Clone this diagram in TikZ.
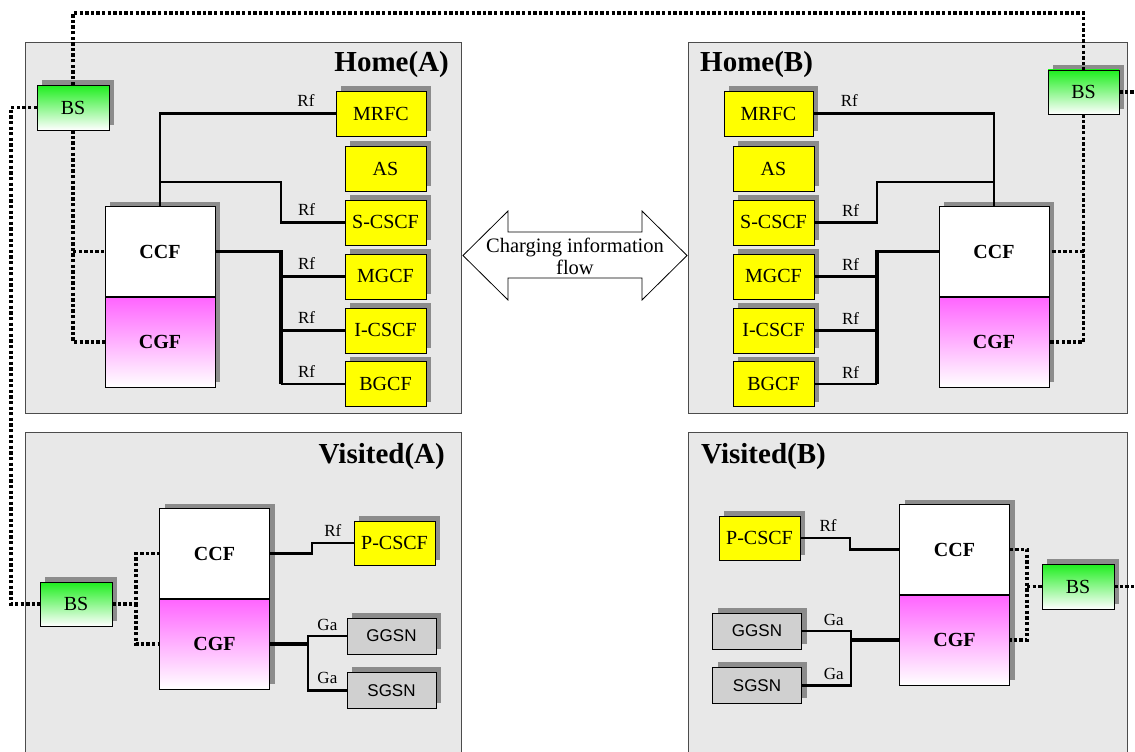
\documentclass[tikz,border=0pt]{standalone}
\usepackage{fontspec}
\setmainfont{Liberation Serif}
\setsansfont{Liberation Sans}
\usetikzlibrary{positioning,shadows}
\definecolor{panelgray}{RGB}{232,232,232}
\definecolor{boxyellow}{RGB}{255,255,0}
\definecolor{boxgray}{RGB}{208,208,208}
\definecolor{shadowgray}{RGB}{140,140,140}
\definecolor{bsgreen}{RGB}{30,238,30}
\definecolor{cgfpink}{RGB}{255,100,255}

\begin{document}
\begin{tikzpicture}[x=1pt,y=-1pt,
  panel/.style={draw=black!70,fill=panelgray,line width=0.8pt,inner sep=0pt},
  title/.style={font=\fontsize{29}{31}\selectfont\bfseries,inner sep=0pt},
  shadowed/.style={drop shadow={shadow xshift=5pt,shadow yshift=5pt,opacity=1,fill=shadowgray,draw=none}},
  fbox/.style={shadowed,draw,fill=boxyellow,minimum width=81pt,minimum height=45pt,inner sep=0pt,font=\fontsize{20}{22}\selectfont},
  gbox/.style={shadowed,draw,fill=boxgray,minimum width=89pt,minimum height=36pt,inner sep=0pt,font=\sffamily\fontsize{17}{19}\selectfont},
  bs/.style={shadowed,draw,top color=bsgreen,bottom color=white,minimum width=72pt,minimum height=45pt,inner sep=0pt,font=\fontsize{20}{22}\selectfont},
  ccf/.style={shadowed,draw,fill=white,minimum width=110pt,minimum height=90pt,inner sep=0pt,font=\fontsize{20}{22}\selectfont\bfseries},
  cgf/.style={shadowed,draw,top color=cgfpink,bottom color=white,minimum width=110pt,minimum height=90pt,inner sep=0pt,font=\fontsize{20}{22}\selectfont\bfseries},
  link/.style={line width=2.7pt},
  trunk/.style={line width=3.3pt},
  dots/.style={line width=3.2pt,dash pattern=on 3.3pt off 2.3pt},
  rf/.style={above,inner sep=0pt,yshift=5.5pt,font=\fontsize{17}{18}\selectfont}]
\useasboundingbox (0,0) rectangle (1135,752);
\clip (0,0) rectangle (1135,752);

\node[panel,minimum width=436pt,minimum height=371pt] (homeA) at (243,227.5) {};
\node[panel,minimum width=439pt,minimum height=371pt] (homeB) at (907.5,227.5) {};
\node[panel,minimum width=436pt,minimum height=338pt] (visitedA) at (243,601) {};
\node[panel,minimum width=439pt,minimum height=338pt] (visitedB) at (907.5,601) {};
\node[title,anchor=base east] (titleHA) at (449,71) {Home(A)};
\node[title,anchor=base west] (titleHB) at (700,71) {Home(B)};
\node[title,anchor=base east] (titleVA) at (445,463) {Visited(A)};
\node[title,anchor=base west] (titleVB) at (701,463) {Visited(B)};

\node[bs] (bsA) at (73,107.5) {BS};
\node[fbox,minimum width=90pt] (mrfcA) at (381,113.5) {MRFC};
\node[fbox] (asA) at (385.5,168.5) {AS};
\node[fbox] (scscfA) [below=8.5pt of asA] {S-CSCF};
\node[fbox] (mgcfA) [below=8.5pt of scscfA] {MGCF};
\node[fbox] (icscfA) [below=8.5pt of mgcfA] {I-CSCF};
\node[fbox] (bgcfA) [below=8.5pt of icscfA] {BGCF};
\node[cgf] (cgfA) at (160,342) {CGF};
\node[ccf] (ccfA) [above=0pt of cgfA] {CCF};

\node[bs,minimum width=71pt,minimum height=44pt] (bsB) at (1083.5,92) {BS};
\node[fbox,minimum width=89pt] (mrfcB) at (768.5,113.5) {MRFC};
\node[fbox] (asB) at (773.5,168.5) {AS};
\node[fbox] (scscfB) [below=8.5pt of asB] {S-CSCF};
\node[fbox] (mgcfB) [below=8.5pt of scscfB] {MGCF};
\node[fbox] (icscfB) [below=8.5pt of mgcfB] {I-CSCF};
\node[fbox] (bgcfB) [below=8.5pt of icscfB] {BGCF};
\node[cgf] (cgfB) at (994,342) {CGF};
\node[ccf] (ccfB) [above=0pt of cgfB] {CCF};

\node[bs,minimum height=44pt] (bsVA) at (76,604) {BS};
\node[cgf] (cgfVA) at (214.5,644) {CGF};
\node[ccf] (ccfVA) [above=0pt of cgfVA] {CCF};
\node[fbox,minimum height=44pt] (pcscfVA) at (394.5,543) {P-CSCF};
\node[gbox] (ggsnVA) at (391.5,636) {GGSN};
\node[gbox] (sgsnVA) [below=18pt of ggsnVA] {SGSN};

\node[fbox,minimum height=44pt] (pcscfVB) at (759.5,538) {P-CSCF};
\node[cgf] (cgfVB) at (954.5,640) {CGF};
\node[ccf] (ccfVB) [above=0pt of cgfVB] {CCF};
\node[gbox] (ggsnVB) at (757,631) {GGSN};
\node[gbox] (sgsnVB) [below=18pt of ggsnVB] {SGSN};
\node[bs] (bsVB) at (1078,586.5) {BS};

\coordinate (topline) at (0,13);
\coordinate (leftline) at (11,0);
\coordinate (outB) at (1140,92);
\coordinate (outVB) at (1140,586.5);
\coordinate (tapA) at (160,182);
\coordinate (busA) at (281,0);
\coordinate (tapB) at (994,182);
\coordinate (busB) at (877,0);
\coordinate (kinkVA) at (312,0);
\coordinate (gaVA) at (308,0);
\coordinate (splitVA) at (136,0);
\coordinate (kinkVB) at (850,0);
\coordinate (gaVB) at (851,0);
\coordinate (splitVB) at (1027,0);

\draw[dots] (bsA.north) -- (bsA.north |- topline) -| (bsB.north);
\draw[dots] (bsA.south) |- (cgfA.west);
\draw[dots] (bsA.south |- ccfA.west) -- (ccfA.west);
\draw[dots] (bsA.west) -| (leftline |- bsVA.west) -- (bsVA.west);
\draw[dots] (bsB.south) |- (cgfB.east);
\draw[dots] (bsB.south |- ccfB.east) -- (ccfB.east);
\draw[dots] (bsB.east) -- (outB);
\draw[dots] (bsVA.east) -| (splitVA |- ccfVA.west) -- (ccfVA.west);
\draw[dots] (splitVA |- bsVA.east) |- (cgfVA.west);
\draw[dots] (ccfVB.east) -| (splitVB |- cgfVB.east) -- (cgfVB.east);
\draw[dots] (splitVB |- bsVB.west) -- (bsVB.west);
\draw[dots] (bsVB.east) -- (outVB);

\draw[link] (ccfA.north) |- (mrfcA.west) node[rf,pos=0.915] {Rf};
\draw[link] (tapA) -| (busA |- scscfA.west) -- (scscfA.west) node[rf,pos=0.4] {Rf};
\draw[trunk] (ccfA.east) -| (busA |- bgcfA.west);
\draw[link] (busA |- bgcfA.west) -- (bgcfA.west) node[rf,pos=0.4] {Rf};
\draw[link] (busA |- mgcfA.west) -- (mgcfA.west) node[rf,pos=0.4] {Rf};
\draw[link] (busA |- icscfA.west) -- (icscfA.west) node[rf,pos=0.4] {Rf};

\draw[link] (mrfcB.east) -| (ccfB.north) node[rf,pos=0.1] {Rf};
\draw[link] (scscfB.east) -| (busB |- tapB) -- (tapB);
\draw[trunk] (ccfB.west) -| (busB |- bgcfB.east);
\draw[link] (busB |- bgcfB.east) -- (bgcfB.east);
\draw[link] (busB |- mgcfB.east) -- (mgcfB.east);
\draw[link] (busB |- icscfB.east) -- (icscfB.east);
\path (scscfB.east) -- (busB |- scscfB.east) node[rf,pos=0.58] {Rf};
\path (mgcfB.east) -- (busB |- mgcfB.east) node[rf,pos=0.58] {Rf};
\path (icscfB.east) -- (busB |- icscfB.east) node[rf,pos=0.58] {Rf};
\path (bgcfB.east) -- (busB |- bgcfB.east) node[rf,pos=0.58] {Rf};

\draw[link] (ccfVA.east) -| (kinkVA |- pcscfVA.west) -- (pcscfVA.west) node[rf,midway] {Rf};
\draw[trunk] (cgfVA.east) -- (gaVA |- cgfVA.east);
\draw[link] (ggsnVA.west) -| (gaVA |- sgsnVA.west) -- (sgsnVA.west) node[rf,midway] {Ga};
\path (gaVA |- ggsnVA.west) -- (ggsnVA.west) node[rf,midway] {Ga};

\draw[link] (pcscfVB.east) -| (kinkVB |- ccfVB.west) node[rf,pos=0.28] {Rf} -- (ccfVB.west);
\draw[link] (ggsnVB.east) -| (gaVB |- sgsnVB.east) -- (sgsnVB.east);
\draw[trunk] (gaVB |- cgfVB.west) -- (cgfVB.west);
\path (ggsnVB.east) -- (gaVB |- ggsnVB.east) node[rf,pos=0.65] {Ga};
\path (sgsnVB.east) -- (gaVB |- sgsnVB.east) node[rf,pos=0.65] {Ga};

\draw[fill=white,line width=0.8pt] (463,255.5) -- (508,211) -- (508,232) -- (642,232) -- (642,211)
  -- (687,255.5) -- (642,300) -- (642,278) -- (508,278) -- (508,300) -- cycle;
\node[align=center,inner sep=0pt,font=\fontsize{20.5}{22}\selectfont] (flow) at (575,256) {Charging information\\flow};
\end{tikzpicture}
\end{document}
